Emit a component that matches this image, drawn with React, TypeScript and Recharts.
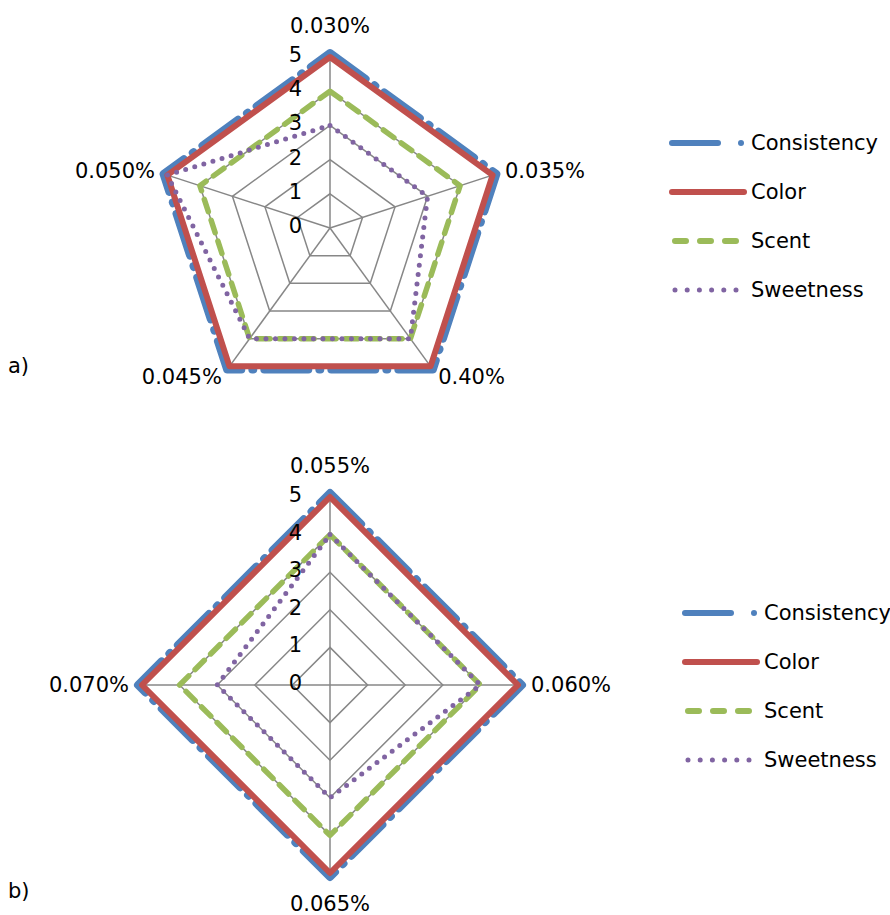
import { RadarChart, Radar, PolarGrid, PolarAngleAxis, PolarRadiusAxis, Legend } from 'recharts'

// a) concentrations
const axesA = ['0.030%', '0.035%', '0.40%', '0.045%', '0.050%']
const consistencyA = [5, 5, 5, 5, 5]
const colorA = [5, 5, 5, 5, 5]
const scentA = [4, 4, 4, 4, 4]
const sweetnessA = [3, 3, 4, 4, 5]

// b) concentrations
const axesB = ['0.055%', '0.060%', '0.065%', '0.070%']
const consistencyB = [5, 5, 5, 5]
const colorB = [5, 5, 5, 5]
const scentB = [4, 4, 4, 4]
const sweetnessB = [4, 4, 3, 3]

const radiusTicks = [0, 1, 2, 3, 4, 5]

const FONT = '"DejaVu Sans", sans-serif'
const GRID = '#878787'

// push: pixel offset of the stroke away from the centre (Excel draws the blue outside the red)
const series = [
  { key: 'consistency', name: 'Consistency', color: '#4F81BD', width: 8, dash: '44 11 1 11', push: 4 },
  { key: 'color', name: 'Color', color: '#C0504D', width: 6, dash: undefined, push: 0 },
  { key: 'scent', name: 'Scent', color: '#9BBB59', width: 5.5, dash: '13 9', push: 0 },
  { key: 'sweetness', name: 'Sweetness', color: '#8064A2', width: 5, dash: '0 9.5', push: 0 },
]

const buildRows = (axes: string[], c: number[], co: number[], s: number[], sw: number[]) =>
  axes.map((a, i) => ({ axis: a, consistency: c[i], color: co[i], scent: s[i], sweetness: sw[i] }))

const dataA = buildRows(axesA, consistencyA, colorA, scentA, sweetnessA)
const dataB = buildRows(axesB, consistencyB, colorB, scentB, sweetnessB)

function AngleTick(props: any) {
  const { x, y, payload, ccx, ccy, r } = props
  const dx = x - ccx
  const dy = y - ccy
  const len = Math.hypot(dx, dy) || 1
  const ux = dx / len
  const uy = dy / len
  const vx = ccx + ux * r
  const vy = ccy + uy * r
  let tx = vx, ty = vy, anchor = 'middle'
  if (Math.abs(ux) < 0.2) {
    ty = vy + uy * 31
  } else {
    tx = vx + ux * 13
    ty = vy + uy * 13
    anchor = ux > 0 ? 'start' : 'end'
  }
  return (
    <text x={tx} y={ty} textAnchor={anchor} dominantBaseline="central" fontSize={21} fontFamily={FONT} fill="#000">
      {payload.value}
    </text>
  )
}

function RadiusTick(props: any) {
  const { x, y, payload } = props
  return (
    <text x={x - 28} y={y - 2} textAnchor="end" dominantBaseline="central" fontSize={21} fontFamily={FONT} fill="#000">
      {payload.value}
    </text>
  )
}

function makeShape(s: any, cx: number, cy: number) {
  return (p: any) => {
    const pts = (p.points || []) as any[]
    if (!pts.length) return <g />
    const d = pts.map((q, i) => {
      const dx = q.x - cx
      const dy = q.y - cy
      const len = Math.hypot(dx, dy) || 1
      const k = s.push ? (len + s.push) / len : 1
      return `${i ? 'L' : 'M'}${cx + dx * k},${cy + dy * k}`
    }).join(' ') + ' Z'
    return (
      <path
        d={d}
        fill="none"
        stroke={s.color}
        strokeWidth={s.width}
        strokeDasharray={s.dash}
        strokeLinecap="round"
        strokeLinejoin="round"
      />
    )
  }
}

function LegendBox() {
  return (
    <svg width={220} height={200} style={{ overflow: 'visible' }}>
      {series.map((s, i) => {
        const y = 10 + i * 49
        return (
          <g key={s.key}>
            {s.key === 'consistency' ? (
              <>
                <line x1={2} y1={y} x2={48} y2={y} stroke={s.color} strokeWidth={6} strokeLinecap="round" />
                <circle cx={71} cy={y} r={3} fill={s.color} />
              </>
            ) : s.key === 'color' ? (
              <line x1={2} y1={y} x2={74} y2={y} stroke={s.color} strokeWidth={6} strokeLinecap="round" />
            ) : s.key === 'scent' ? (
              <line x1={5} y1={y} x2={72} y2={y} stroke={s.color} strokeWidth={6} strokeLinecap="round" strokeDasharray="11 14" />
            ) : (
              <line x1={5} y1={y} x2={72} y2={y} stroke={s.color} strokeWidth={5} strokeLinecap="round" strokeDasharray="0 12.2" />
            )}
            <text x={81} y={y} dominantBaseline="central" fontSize={21} fontFamily={FONT} fill="#000">{s.name}</text>
          </g>
        )
      })}
    </svg>
  )
}

function Spider({ data, cx, cy, r, width, height, legendLeft, legendTop }: any) {
  return (
    <RadarChart width={width} height={height} data={data} cx={cx} cy={cy} outerRadius={r} margin={{ top: 0, right: 0, bottom: 0, left: 0 }}>
      <PolarGrid gridType="polygon" stroke={GRID} strokeWidth={1.5} />
      <PolarAngleAxis dataKey="axis" tickLine={false} axisLine={false} tick={(p: any) => <AngleTick {...p} ccx={cx} ccy={cy} r={r} />} />
      <PolarRadiusAxis angle={90} domain={[0, 5]} ticks={radiusTicks as any} tickCount={6} axisLine={false} tickLine={false} tick={RadiusTick} />
      {series.map(s => (
        <Radar
          key={s.key}
          dataKey={s.key}
          name={s.name}
          stroke={s.color}
          strokeWidth={s.width}
          fill="none"
          fillOpacity={0}
          dot={false}
          shape={makeShape(s, cx, cy)}
          isAnimationActive={false}
        />
      ))}
      <Legend content={() => <LegendBox />} wrapperStyle={{ left: legendLeft, top: legendTop, width: 220, height: 200, bottom: 'auto', right: 'auto' }} />
    </RadarChart>
  )
}

export default function App() {
  return (
    <div style={{ position: 'absolute', left: 0, top: 0, width: 890, height: 915, background: '#fff', fontFamily: FONT }}>
      <div style={{ position: 'absolute', left: 0, top: 0 }}>
        <Spider data={dataA} cx={330} cy={228} r={171} width={890} height={450} legendLeft={670} legendTop={133} />
      </div>
      <div style={{ position: 'absolute', left: 0, top: 450 }}>
        <Spider data={dataB} cx={330} cy={235} r={188} width={890} height={465} legendLeft={683} legendTop={153} />
      </div>
      <div style={{ position: 'absolute', left: 8, top: 354, fontSize: 21 }}>a)</div>
      <div style={{ position: 'absolute', left: 8, top: 879, fontSize: 21 }}>b)</div>
    </div>
  )
}
